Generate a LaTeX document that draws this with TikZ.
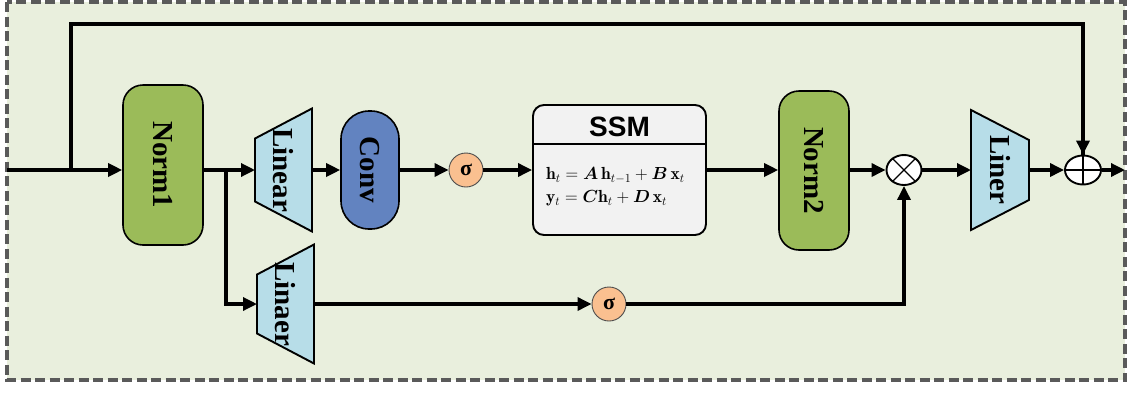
\RequirePackage{fix-cm}
\documentclass[tikz,border=0pt]{standalone}
\usepackage{amsmath}
\usepackage{fontspec}
\newfontfamily\tnr{Liberation Serif}
\newfontfamily\arl{Liberation Sans}
\usetikzlibrary{arrows.meta,shapes.geometric,calc}
\definecolor{bgc}{HTML}{E9EFDD}
\definecolor{framec}{HTML}{5A5A5A}
\definecolor{normc}{HTML}{9BBB59}
\definecolor{convc}{HTML}{6283C0}
\definecolor{linc}{HTML}{B7DDE8}
\definecolor{sigc}{HTML}{FAC090}
\definecolor{ssmc}{HTML}{F2F2F2}
\tikzset{
  conn/.style={line width=3.3pt,-{Triangle[length=14pt,width=13pt]}},
  plain/.style={line width=3.3pt},
  normbox/.style={draw=black,line width=1.6pt,fill=normc,rounded corners=20pt,inner sep=0pt},
  convbox/.style={draw=black,line width=1.6pt,fill=convc,rounded corners=28pt,inner sep=0pt},
  trapbox/.style={draw=black,line width=1.9pt,fill=linc},
  hold/.style={inner sep=0pt,outer sep=0pt},
  lbl/.style={rotate=-90,font=\tnr\bfseries\fontsize{29}{30}\selectfont},
  sigbox/.style={circle,draw=black!70,line width=0.9pt,fill=sigc,minimum size=34pt,inner sep=0pt,font=\tnr\bfseries\fontsize{22}{22}\selectfont},
  opbox/.style={ellipse,draw=black,line width=1.9pt,fill=white,minimum width=35pt,minimum height=30pt,inner sep=0pt},
}
\begin{document}
\begin{tikzpicture}[x=1pt,y=-1pt]
\useasboundingbox (0,0) rectangle (1128,392);
\fill[white] (0,0) rectangle (1128,392);
\draw[framec,fill=bgc,line width=3.3pt,dash pattern=on 10pt off 4.5pt] (7,2) rectangle (1125,380);

% nodes
\node[normbox,minimum width=80pt,minimum height=160pt] (norm1) at (163,165) {};
\node[lbl] at (norm1) {Norm1};

\node[hold,minimum width=57pt,minimum height=123pt] (lin1) at (283.5,170) {};
\draw[trapbox] ([yshift=-30pt]lin1.north west) -- (lin1.north east) -- (lin1.south east) -- ([yshift=30pt]lin1.south west) -- cycle;
\node[lbl] at (lin1) {Linear};

\node[convbox,minimum width=58pt,minimum height=118pt] (conv) at (370,170) {};
\node[lbl] at (conv) {Conv};

\node[sigbox] (sig1) at (466,170) {σ};

\node[draw=black,line width=1.9pt,fill=ssmc,rounded corners=11pt,minimum width=173pt,minimum height=130pt,inner sep=0pt] (ssm) at (619.5,170) {};
\draw[line width=1.6pt] ([yshift=-40pt]ssm.north west) -- ([yshift=-40pt]ssm.north east);
\node[font=\arl\bfseries\fontsize{28}{28}\selectfont] (ssmt) at (619.5,127) {SSM};
\node[anchor=west,align=left,inner sep=0pt,font=\fontsize{17.5}{23}\selectfont] (eq) at (546,187)
  {$\mathbf{h}_t=\boldsymbol{A}\,\mathbf{h}_{t-1}+\boldsymbol{B}\,\mathbf{x}_t$\\
   $\mathbf{y}_t=\boldsymbol{C}\mathbf{h}_t+\boldsymbol{D}\,\mathbf{x}_t$};

\node[normbox,minimum width=70pt,minimum height=159pt] (norm2) at (814,170.5) {};
\node[lbl] at (norm2) {Norm2};

\node[opbox] (mul) at (904,170) {};
\draw[line width=1.2pt] (mul.45) -- (mul.225) (mul.135) -- (mul.315);

\node[hold,minimum width=58pt,minimum height=120pt] (lin3) at (1000,170) {};
\draw[trapbox] (lin3.north west) -- ([yshift=-30pt]lin3.north east) -- ([yshift=30pt]lin3.south east) -- (lin3.south west) -- cycle;
\node[lbl] at (lin3) {Liner};

\node[opbox,minimum width=36pt,minimum height=29pt] (add) at (1083,170) {};
\draw[line width=1.2pt] (add.north) -- (add.south) (add.west) -- (add.east);

\node[hold,minimum width=57pt,minimum height=119pt] (lin2) at (285.5,304) {};
\draw[trapbox] ([yshift=-30pt]lin2.north west) -- (lin2.north east) -- (lin2.south east) -- ([yshift=30pt]lin2.south west) -- cycle;
\node[lbl] at (lin2) {Linaer};

\node[sigbox] (sig2) at (609,304) {σ};

\coordinate (in) at (7,170);
\coordinate (skip) at (71,170);
\coordinate (br) at (226,170);
\coordinate (out) at (1125,170);

% connectors
\draw[conn] (in) -- (norm1.west |- in);
\draw[plain] (skip) -- (71,24) -| (add.north);
\draw[conn] (add.north |- 0,140) -- (add.north);
\draw[conn] (norm1.east |- br) -- (lin1.west);
\draw[conn] (br) |- (lin2.west);
\draw[conn] (lin1.east) -- (conv.west);
\draw[conn] (conv.east) -- (sig1.west);
\draw[conn] (sig1.east) -- (ssm.west);
\draw[conn] (ssm.east) -- (norm2.west |- ssm.east);
\draw[conn] (norm2.east |- mul.west) -- (mul.west);
\draw[conn] (mul.east) -- (lin3.west);
\draw[conn] (lin3.east) -- (add.west);
\draw[conn] (add.east) -- (out);
\draw[conn] (lin2.east) -- (sig2.west);
\draw[conn] (sig2.east) -| (mul.south);
\end{tikzpicture}
\end{document}
